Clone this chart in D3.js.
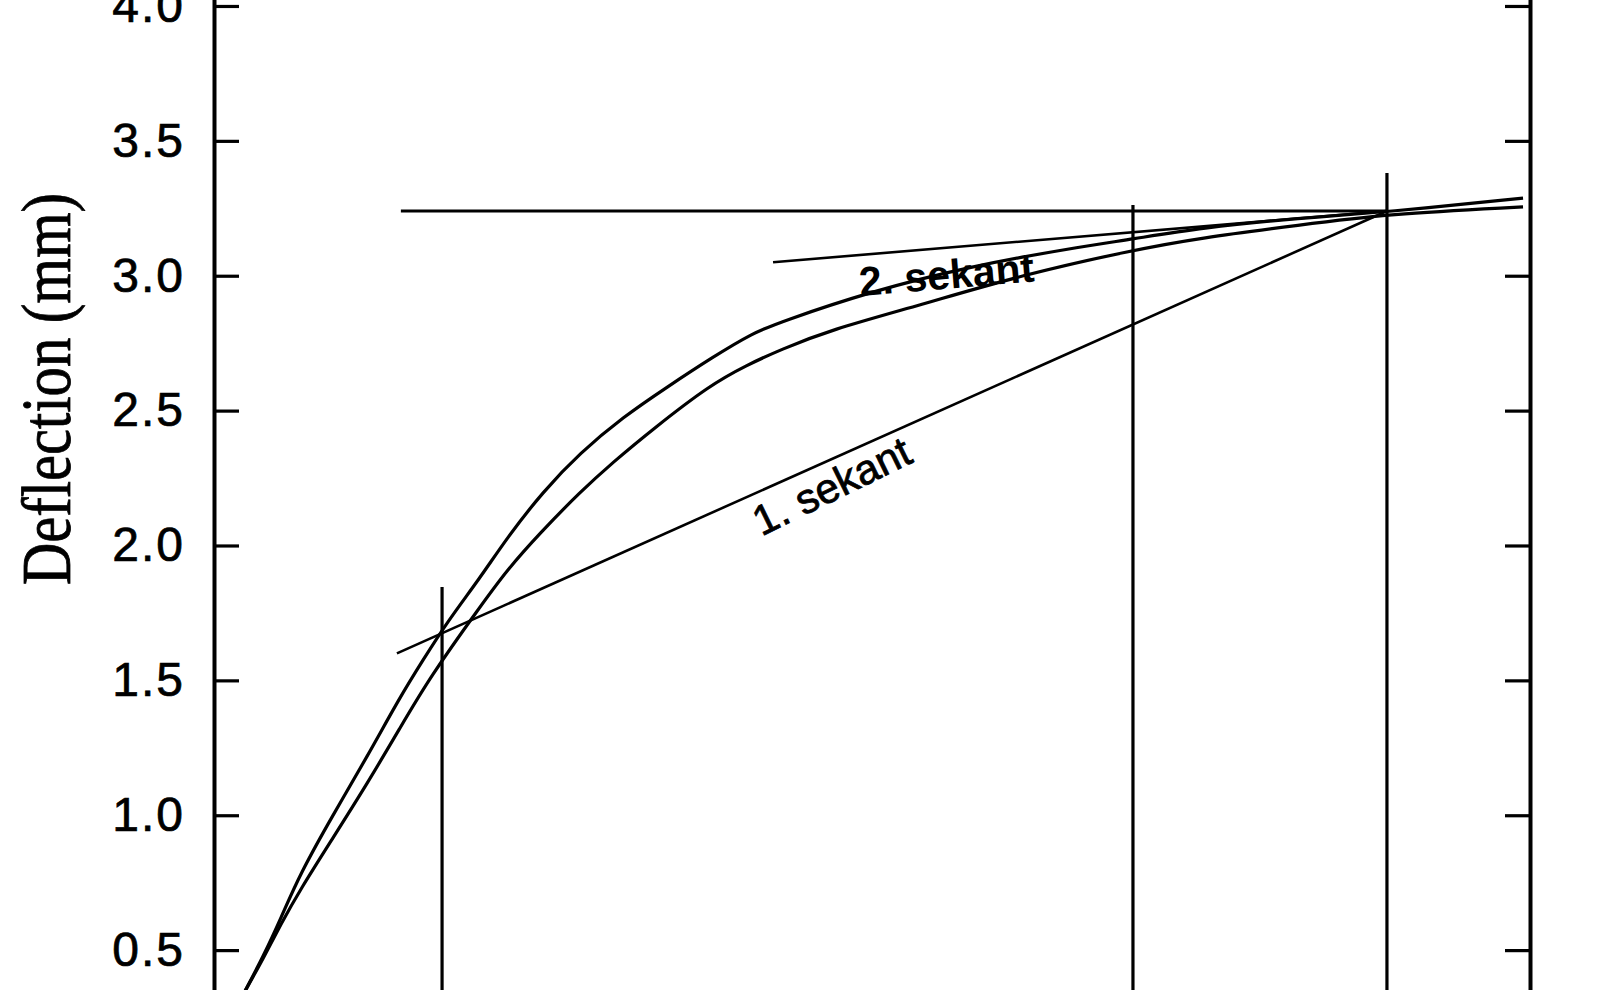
<!DOCTYPE html>
<html>
<head>
<meta charset="utf-8">
<script src="https://cdn.jsdelivr.net/npm/d3@7/dist/d3.min.js"></script>
<style>
  body { margin: 0; background: #fff; }
  svg { display: block; }
</style>
</head>
<body>
<div id="place"></div>
<script>
// values (x in arbitrary units, 0 = left frame, 100 = right frame)
const yTicks = [0.5, 1.0, 1.5, 2.0, 2.5, 3.0, 3.5, 4.0];

const upperX = [2.20, 3.80, 5.09, 6.53, 9.04, 11.63, 14.13, 15.88, 17.71, 20.21, 22.26, 25.00, 27.81, 31.08, 34.42, 37.92, 40.96, 43.01, 49.77, 57.52, 65.27, 69.83, 74.92, 82.52, 89.13, 99.47];
const upperY = [0.334, 0.482, 0.619, 0.782, 1.001, 1.216, 1.438, 1.575, 1.716, 1.879, 2.028, 2.200, 2.343, 2.476, 2.587, 2.699, 2.788, 2.828, 2.940, 3.036, 3.103, 3.136, 3.177, 3.214, 3.236, 3.288];

const lowerX = [2.20, 3.80, 5.09, 6.53, 9.04, 11.63, 14.13, 16.41, 20.21, 22.26, 24.77, 27.81, 30.32, 33.36, 37.69, 40.50, 43.01, 46.81, 53.65, 61.40, 69.83, 74.92, 82.52, 89.13, 99.47];
const lowerY = [0.334, 0.474, 0.597, 0.723, 0.916, 1.116, 1.323, 1.512, 1.772, 1.909, 2.046, 2.198, 2.309, 2.432, 2.595, 2.669, 2.725, 2.799, 2.891, 3.003, 3.095, 3.140, 3.188, 3.229, 3.255];

const secant1 = [[13.9, 1.60], [89.13, 3.24]];
const secant2 = [[42.48, 3.05], [89.13, 3.24]];
const levelLine = [[14.2, 3.24], [89.13, 3.24]];

const stepX = [17.33, 69.83, 89.13];
const stepTop = [1.846, 3.262, 3.381];

const width = 1600, height = 990;

let svg = d3.select("#place")
    .append("svg")
    .attr("width", width)
    .attr("height", height);

// frame runs past the picture edges (top and bottom are cut off)
let x = d3.scaleLinear().domain([0, 100]).range([214, 1530]);
let y = d3.scaleLinear().domain([0, 4.1]).range([1085, -21]);

let yAxisLeft = d3.axisLeft(y)
    .tickValues(yTicks)
    .tickFormat(d3.format(".1f"))
    .tickSizeInner(-25)
    .tickSizeOuter(0)
    .tickPadding(29);

let yAxisRight = d3.axisRight(y)
    .tickValues(yTicks)
    .tickFormat("")
    .tickSizeInner(-25)
    .tickSizeOuter(0);

let gl = svg.append("g")
    .attr("transform", "translate(" + x(0) + ",0)")
    .call(yAxisLeft);

let gr = svg.append("g")
    .attr("transform", "translate(" + x(100) + ",0)")
    .call(yAxisRight);

svg.selectAll(".domain").attr("stroke", "#000").attr("stroke-width", 4);
svg.selectAll(".tick line").attr("stroke", "#000").attr("stroke-width", 3.2);
gl.selectAll(".tick text")
    .attr("fill", "#000")
    .attr("stroke", "#000")
    .attr("stroke-width", 0.7)
    .style("font-family", "'Liberation Sans', Arial, sans-serif")
    .style("font-size", "48px")
    .style("letter-spacing", "2px");

// axis title
svg.append("text")
    .attr("transform", "translate(70," + y(2.58) + ") rotate(-90)")
    .attr("text-anchor", "middle")
    .attr("textLength", 392)
    .attr("lengthAdjust", "spacingAndGlyphs")
    .style("font-family", "'Liberation Serif', 'Times New Roman', serif")
    .style("font-size", "70px")
    .attr("fill", "#000")
    .attr("stroke", "#000")
    .attr("stroke-width", 0.8)
    .text("Deflection (mm)");

let line = d3.line()
    .x(d => x(d[0]))
    .y(d => y(d[1]));

let smooth = d3.line()
    .x(d => x(d[0]))
    .y(d => y(d[1]))
    .curve(d3.curveBasis);

let upper = upperX.map((v, i) => [v, upperY[i]]);
let lower = lowerX.map((v, i) => [v, lowerY[i]]);

// vertical step lines
svg.selectAll(".step")
    .data(stepX)
    .join("line")
    .attr("class", "step")
    .attr("x1", d => x(d))
    .attr("x2", d => x(d))
    .attr("y1", (d, i) => y(stepTop[i]))
    .attr("y2", y(0))
    .attr("stroke", "#000")
    .attr("stroke-width", 3.2);

svg.append("path")
    .datum(levelLine)
    .attr("d", line)
    .attr("fill", "none")
    .attr("stroke", "#000")
    .attr("stroke-width", 3.2);

[secant1, secant2].forEach(s => {
    svg.append("path")
        .datum(s)
        .attr("d", line)
        .attr("fill", "none")
        .attr("stroke", "#000")
        .attr("stroke-width", 2.6);
});

[upper, lower].forEach(c => {
    svg.append("path")
        .datum(c)
        .attr("d", smooth)
        .attr("fill", "none")
        .attr("stroke", "#000")
        .attr("stroke-width", 3.2)
        .attr("stroke-linejoin", "round");
});

// labels sit under their secant, turned with it
function onSecant(s, xv) {
    let t = (xv - s[0][0]) / (s[1][0] - s[0][0]);
    return s[0][1] + t * (s[1][1] - s[0][1]);
}
function angleOf(s) {
    return Math.atan2(y(s[1][1]) - y(s[0][1]), x(s[1][0]) - x(s[0][0])) * 180 / Math.PI;
}

svg.append("text")
    .attr("transform", "translate(" + x(41.6) + "," + (y(onSecant(secant1, 41.6)) + 46) + ") rotate(" + (angleOf(secant1) - 2) + ")")
    .style("font-family", "'Liberation Sans', Arial, sans-serif")
    .style("font-size", "42px")
    .attr("fill", "#000")
    .attr("stroke", "#000")
    .attr("stroke-width", 0.8)
    .text("1. sekant");

svg.append("text")
    .attr("transform", "translate(" + x(49.1) + "," + (y(onSecant(secant2, 49.1)) + 41) + ") rotate(" + angleOf(secant2) + ")")
    .style("font-family", "'Liberation Sans', Arial, sans-serif")
    .style("font-size", "41px")
    .style("font-weight", "bold")
    .attr("fill", "#000")
    .text("2. sekant");
</script>
</body>
</html>
